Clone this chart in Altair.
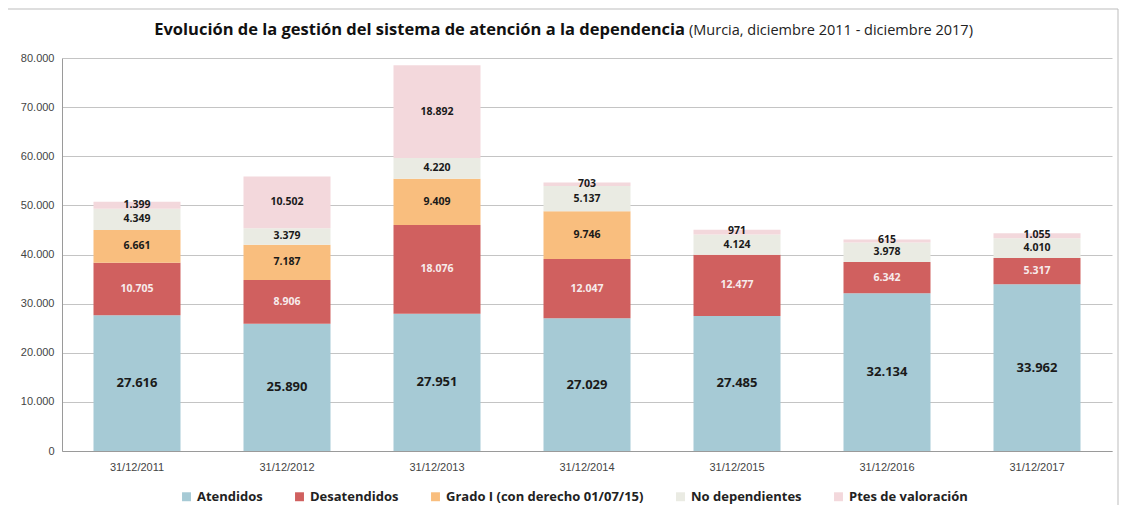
import altair as alt
import pandas as pd

dates = ["31/12/2011", "31/12/2012", "31/12/2013", "31/12/2014",
         "31/12/2015", "31/12/2016", "31/12/2017"]
series = ["Atendidos", "Desatendidos", "Grado I (con derecho 01/07/15)",
          "No dependientes", "Ptes de valoración"]
atendidos = [27616, 25890, 27951, 27029, 27485, 32134, 33962]
desatendidos = [10705, 8906, 18076, 12047, 12477, 6342, 5317]
grado_i = [6661, 7187, 9409, 9746, 0, 0, 0]
no_dependientes = [4349, 3379, 4220, 5137, 4124, 3978, 4010]
ptes_valoracion = [1399, 10502, 18892, 703, 971, 615, 1055]
colors = ["#A6CAD5", "#D0605F", "#F9BE7E", "#EAEBE3", "#F3D8DC"]
label_colors = ["#1a1a1a", "#F7ECEC", "#1a1a1a", "#1a1a1a", "#1a1a1a"]

rows = []
for si, vals in enumerate([atendidos, desatendidos, grado_i, no_dependientes, ptes_valoracion]):
    for d, v in zip(dates, vals):
        rows.append({"date": d, "serie": series[si], "order": si, "value": v,
                     "label": f"{v:,}".replace(",", ".") if v > 0 else "",
                     "lcolor": label_colors[si]})
df = pd.DataFrame(rows)

W, H = 1050, 393
base = alt.Chart(df)

bars = base.mark_bar(size=87).encode(
    x=alt.X("date:N", sort=dates, title=None,
            scale=alt.Scale(paddingInner=0.42, paddingOuter=0.21),
            axis=alt.Axis(labelAngle=0, labelFont="Liberation Sans", labelFontSize=11,
                          labelColor="#444", labelPadding=10, ticks=False,
                          domainColor="#9a9a9a", grid=False)),
    y=alt.Y("value:Q", stack="zero", title=None,
            scale=alt.Scale(domain=[0, 80000], nice=False),
            axis=alt.Axis(values=list(range(0, 80001, 10000)),
                          labelExpr="replace(datum.label, ',', '.')",
                          labelFont="Liberation Sans", labelFontSize=11, labelColor="#444",
                          labelPadding=8, ticks=False, domain=True, domainColor="#9a9a9a",
                          gridColor="#c4c4c4", gridWidth=1)),
    color=alt.Color("serie:N", sort=series,
                    scale=alt.Scale(domain=series, range=colors),
                    legend=alt.Legend(title=None, orient="none", direction="horizontal",
                                      legendX=118, legendY=432,
                                      symbolType="square", symbolSize=80,
                                      symbolStrokeWidth=0,
                                      labelFont="Open Sans", labelFontSize=13,
                                      labelFontWeight="bold", labelColor="#222",
                                      columnPadding=30, labelLimit=400)),
    order=alt.Order("order:Q"),
)

texts = base.transform_filter("datum.value > 0").transform_stack(
    stack="value", groupby=["date"], as_=["y0", "y1"], sort=[alt.SortField("order")]
).transform_calculate(
    mid="(datum.y0 + datum.y1) / 2 + ((datum.order == 4 && datum.value < 2000) ? 120 : 0)"
).mark_text(font="Open Sans", fontWeight="bold", baseline="middle").encode(
    x=alt.X("date:N", sort=dates),
    y=alt.Y("mid:Q"),
    text="label:N",
    color=alt.Color("lcolor:N", scale=None),
    size=alt.condition("datum.order == 0", alt.value(13), alt.value(10.5)),
)

frame = alt.Chart(pd.DataFrame({"a": [0]})).mark_rect(
    fill=None, stroke="#bdbdbd", strokeWidth=1
).encode(x=alt.value(-57), x2=alt.value(W + 6), y=alt.value(-49), y2=alt.value(H + 60))

title_bold = alt.Chart(pd.DataFrame({"t": ["Evolución de la gestión del sistema de atención a la dependencia"]})).mark_text(
    font="Open Sans", fontWeight="bold", fontSize=16.5, align="right", baseline="middle", color="#111"
).encode(text="t:N", x=alt.value(623), y=alt.value(-28))

title_reg = alt.Chart(pd.DataFrame({"t": ["(Murcia, diciembre 2011 - diciembre 2017)"]})).mark_text(
    font="Open Sans", fontSize=14.5, align="left", baseline="middle", color="#222"
).encode(text="t:N", x=alt.value(627), y=alt.value(-27))

chart = alt.layer(frame, bars, texts, title_bold, title_reg).properties(
    width=W, height=H,
    autosize=alt.AutoSizeParams(type="none"),
    padding={"left": 54, "top": 50, "right": 9, "bottom": 54},
).configure_view(stroke=None)

chart.save("out.html", embed_options={"renderer": "svg", "actions": False})
